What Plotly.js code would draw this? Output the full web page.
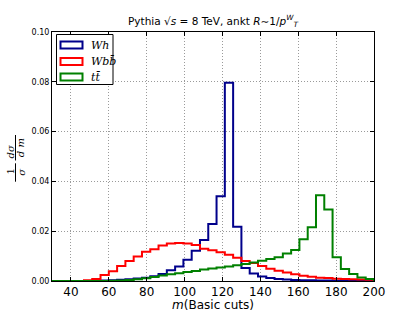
<!DOCTYPE html>
<html>
<head>
<meta charset="utf-8">
<script src="https://cdn.plot.ly/plotly-3.0.1.min.js"></script>
<style>html,body{margin:0;padding:0;background:#fff;}#chart{width:415px;height:312px;}</style>
</head>
<body>
<div id="chart"></div>
<script>
// Histogram bin edges (40 bins, 25 .. 200)
const binEdges = [25, 29.375, 33.75, 38.125, 42.5, 46.875, 51.25, 55.625, 60, 64.375,
  68.75, 73.125, 77.5, 81.875, 86.25, 90.625, 95, 99.375, 103.75, 108.125,
  112.5, 116.875, 121.25, 125.625, 130, 134.375, 138.75, 143.125, 147.5, 151.875,
  156.25, 160.625, 165, 169.375, 173.75, 178.125, 182.5, 186.875, 191.25, 195.625, 200];

// Normalised bin contents (1/sigma dsigma/dm)
const whValues = [0, 0, 0, 0, 0, 0, 0.0001, 0.0002, 0.0003, 0.0005,
  0.0007, 0.0010, 0.0013, 0.0019, 0.0028, 0.0043, 0.0058, 0.0085, 0.0121, 0.0165,
  0.0229, 0.0340, 0.0796, 0.0218, 0.0052, 0.0030, 0.0018, 0.0012, 0.0008, 0.0006,
  0.0004, 0.0003, 0.0003, 0.0002, 0.0002, 0.0001, 0.0001, 0.0001, 0.0001, 0.0001];

const wbbValues = [0, 0, 0, 0, 0, 0.0003, 0.0008, 0.0024, 0.0039, 0.0060,
  0.0080, 0.0098, 0.0117, 0.0128, 0.0143, 0.0151, 0.0153, 0.0151, 0.0145, 0.0130,
  0.0123, 0.0115, 0.0105, 0.0093, 0.0080, 0.0072, 0.0060, 0.0049, 0.0041, 0.0034,
  0.0027, 0.0021, 0.0017, 0.0013, 0.0012, 0.0009, 0.0008, 0.0007, 0.0006, 0.0005];

const ttValues = [0, 0, 0, 0, 0, 0, 0, 0, 0.0001, 0.0002,
  0.0004, 0.0007, 0.0011, 0.0016, 0.0022, 0.0027, 0.0031, 0.0036, 0.0040, 0.0046,
  0.0050, 0.0054, 0.0058, 0.0063, 0.0068, 0.0074, 0.0081, 0.0088, 0.0095, 0.0110,
  0.0125, 0.0168, 0.0216, 0.0344, 0.0287, 0.0095, 0.0048, 0.0028, 0.0014, 0.0008];

const seriesNames = ['<i>Wh</i>', '<i>Wb</i><i>b̄</i>', '<i>tt̄</i>'];
const seriesColors = ['#00008b', '#ff0000', '#008000'];
const xTickVals = [40, 60, 80, 100, 120, 140, 160, 180, 200];
const yTickVals = [0, 0.02, 0.04, 0.06, 0.08, 0.10];

function stepTrace(vals, color) {
  const xs = [binEdges[0]].concat(binEdges.slice(0, vals.length), [binEdges[vals.length], binEdges[vals.length]]);
  const ys = [0].concat(vals, [vals[vals.length - 1], 0]);
  return {type: 'scatter', mode: 'lines', x: xs, y: ys,
    line: {shape: 'hv', color: color, width: 2}, showlegend: false, hoverinfo: 'skip'};
}

const data = [
  stepTrace(whValues, seriesColors[0]),
  stepTrace(wbbValues, seriesColors[1]),
  stepTrace(ttValues, seriesColors[2])
];

// pixel -> paper helpers for the plot area
const PL = 52, PR = 374, PT = 32, PB = 281;
const px = x => (x - PL) / (PR - PL);
const py = y => (PB - y) / (PB - PT);

const shapes = [];
const annotations = [];

// Legend (hand-built to mimic matplotlib patch handles)
shapes.push({type: 'rect', xref: 'paper', yref: 'paper', x0: px(56.5), x1: px(113), y0: py(84.5), y1: py(34.5),
  fillcolor: '#ffffff', line: {color: '#000000', width: 1}, layer: 'above'});
const rowY = [45, 61.5, 77];
for (let i = 0; i < 3; i++) {
  shapes.push({type: 'rect', xref: 'paper', yref: 'paper', x0: px(60.5), x1: px(82.5),
    y0: py(rowY[i] + 3.5), y1: py(rowY[i] - 3.5), fillcolor: 'rgba(0,0,0,0)',
    line: {color: seriesColors[i], width: 2}, layer: 'above'});
  annotations.push({xref: 'paper', yref: 'paper', x: px(89), y: py(rowY[i]), xanchor: 'left', yanchor: 'middle',
    text: seriesNames[i], showarrow: false, font: {family: 'DejaVu Serif', size: 11, color: '#000'}});
}

// Y label: 1/sigma dsigma/dm as rotated fractions
const yl = [
  {t: '1', x: 10, y: 171.5},
  {t: '<i>σ</i>', x: 20.7, y: 172},
  {t: '<i>dσ</i>', x: 10, y: 151.5},
  {t: '<i>d m</i>', x: 20.7, y: 147.5}
];
yl.forEach(o => annotations.push({xref: 'paper', yref: 'paper', x: px(o.x), y: py(o.y), xanchor: 'center', yanchor: 'middle',
  text: o.t, textangle: -90, showarrow: false, font: {family: 'DejaVu Serif', size: 10, color: '#000'}}));
shapes.push({type: 'line', xref: 'paper', yref: 'paper', x0: px(15.5), x1: px(15.5), y0: py(181.7), y1: py(163.3), line: {color: '#000', width: 1}});
shapes.push({type: 'line', xref: 'paper', yref: 'paper', x0: px(15.5), x1: px(15.5), y0: py(160.5), y1: py(135), line: {color: '#000', width: 1}});

const layout = {
  width: 415, height: 312,
  margin: {l: PL, r: 415 - PR, t: PT, b: 312 - PB, pad: 0},
  paper_bgcolor: '#ffffff', plot_bgcolor: '#ffffff',
  font: {family: 'DejaVu Sans', color: '#000'},
  title: {text: 'Pythia √<i>s</i> = 8 TeV, ankt <i>R</i>∼1/<i>p</i><sup><i>W</i></sup><sub><i>T</i></sub>',
    font: {size: 10.5, family: 'DejaVu Sans', color: '#000'}, x: 0.5, xref: 'paper', y: 1 - 21 / 312, yref: 'container', yanchor: 'middle'},
  xaxis: {range: [30, 200], tickvals: xTickVals, ticktext: xTickVals.map(String),
    showline: true, mirror: 'ticks', linecolor: '#000', linewidth: 1,
    ticks: 'inside', ticklen: 4, tickwidth: 1, tickcolor: '#000',
    showgrid: true, gridcolor: '#9a9a9a', griddash: '1px,2px', gridwidth: 1, zeroline: false,
    tickfont: {size: 12, family: 'DejaVu Sans'},
    title: {text: '<i>m</i>(Basic cuts)', font: {size: 12, family: 'DejaVu Sans'}, standoff: 5},
    automargin: false, fixedrange: true},
  yaxis: {range: [0, 0.10], tickvals: yTickVals, tickformat: '.2f',
    showline: true, mirror: 'ticks', linecolor: '#000', linewidth: 1,
    ticks: 'inside', ticklen: 4, tickwidth: 1, tickcolor: '#000',
    showgrid: true, gridcolor: '#9a9a9a', griddash: '1px,2px', gridwidth: 1, zeroline: false,
    tickfont: {size: 8, family: 'DejaVu Sans'}, automargin: false, fixedrange: true},
  shapes: shapes,
  annotations: annotations,
  showlegend: false
};

Plotly.newPlot('chart', data, layout, {displayModeBar: false, staticPlot: true});
</script>
</body>
</html>
